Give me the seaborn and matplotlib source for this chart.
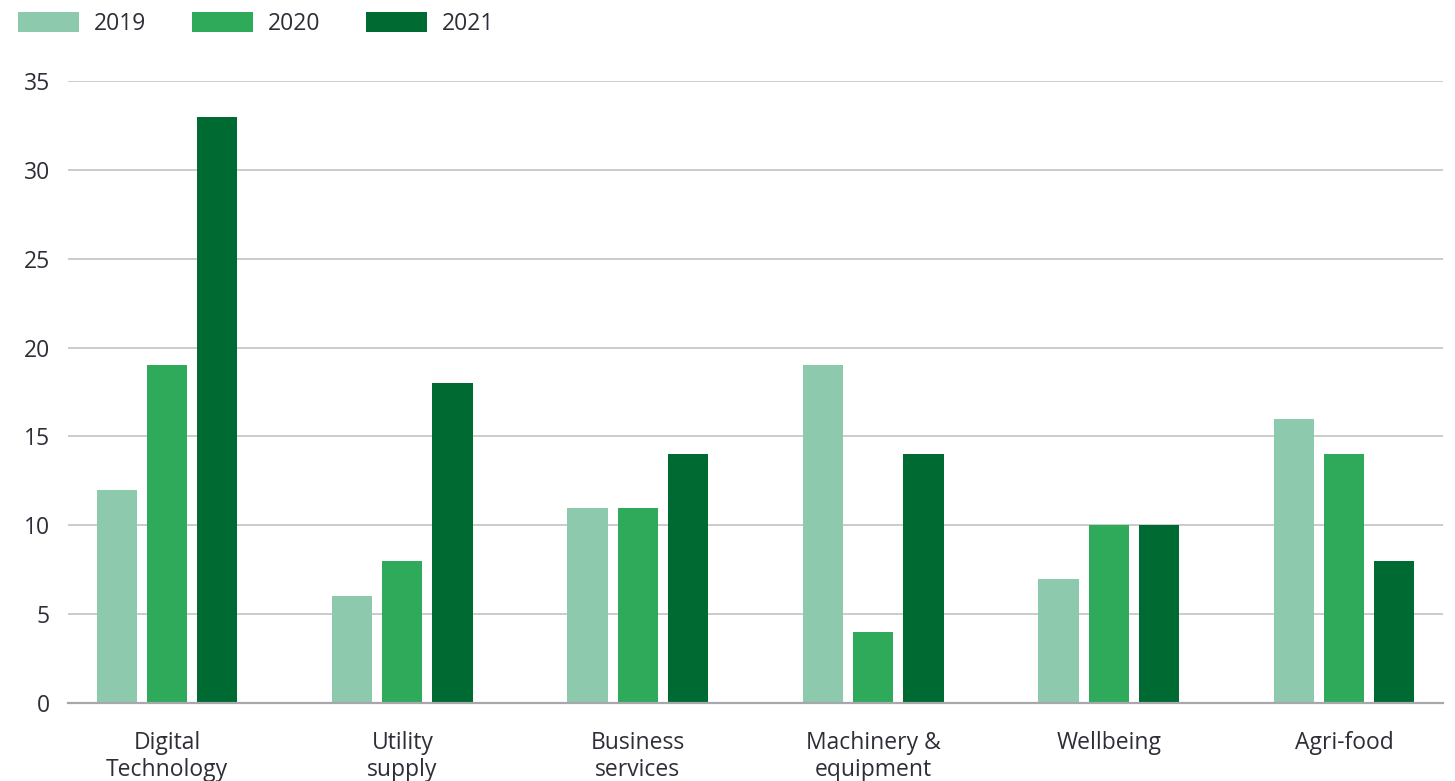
import matplotlib
matplotlib.use("Agg")
import matplotlib.pyplot as plt
import seaborn as sns
import pandas as pd
from matplotlib.patches import Patch

categories = ["Digital\nTechnology", "Utility\nsupply", "Business\nservices",
              "Machinery &\nequipment", "Wellbeing", "Agri-food"]
years = ["2019", "2020", "2021"]
v2019 = [12, 6, 11, 19, 7, 16]
v2020 = [19, 8, 11, 4, 10, 14]
v2021 = [33, 18, 14, 14, 10, 8]
colors = ["#8DC9AC", "#2EAA5A", "#006A33"]

rows = []
for yr, vals in zip(years, [v2019, v2020, v2021]):
    for c, v in zip(categories, vals):
        rows.append({"category": c, "year": yr, "value": v})
df = pd.DataFrame(rows)

sns.set_theme(style="white")
plt.rcParams["font.family"] = ["Open Sans", "DejaVu Sans"]

FS = 16.5
TXT = "#2E2E38"

fig = plt.figure(figsize=(14.55, 7.81), dpi=100)
ax = fig.add_axes([68/1455, 1-703/781, (1443-68)/1455, (703-81)/781])

sns.barplot(data=df, x="category", y="value", hue="year", order=categories,
            hue_order=years, palette=colors, width=0.64, gap=0.2,
            saturation=1, ax=ax, legend=False, edgecolor="none")

ax.set_xlim(-0.42, 5.42)
ax.set_ylim(0, 35)
ax.set_yticks(range(0, 36, 5))
ax.grid(axis="y", color="#BDBDBD", linewidth=1.1)
ax.set_axisbelow(True)
for s in ["top", "right", "left"]:
    ax.spines[s].set_visible(False)
ax.spines["bottom"].set_color("#A8A8AC")
ax.spines["bottom"].set_linewidth(1.6)
ax.set_xlabel("")
ax.set_ylabel("")
ax.tick_params(axis="y", length=0, pad=13, labelsize=FS, labelcolor=TXT)
ax.tick_params(axis="x", length=0, pad=20, labelsize=FS, labelcolor=TXT)
for lbl in ax.get_xticklabels():
    lbl.set_linespacing(1.2)

handles = [Patch(facecolor=c, edgecolor="none", label=y) for c, y in zip(colors, years)]
leg = fig.legend(handles=handles, loc="upper left", bbox_to_anchor=(2/1455, 1+4/781),
                 ncol=3, frameon=False, fontsize=FS, handlelength=2.66,
                 handleheight=0.96, handletextpad=0.65, columnspacing=2.0,
                 borderpad=0.2)
for t in leg.get_texts():
    t.set_color(TXT)

fig.savefig("out.png", dpi=100)
